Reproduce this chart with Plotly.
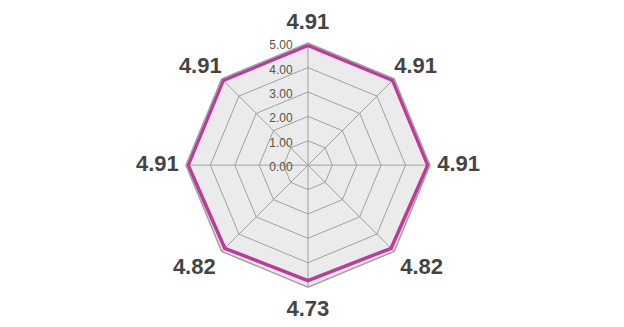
import plotly.graph_objects as go

categories = ["A", "B", "C", "D", "E", "F", "G", "H"]
values = [4.91, 4.91, 4.91, 4.82, 4.73, 4.82, 4.91, 4.91]
radial_ticks = [0, 1, 2, 3, 4, 5]
radial_ticktext = ["0.00", "1.00", "2.00", "3.00", "4.00", "5.00"]
angle_labels = [f"{v:.2f}" for v in values]
r_max = 5
label_positions = ["top center", "top right", "middle right", "bottom right",
                   "bottom center", "bottom left", "middle left", "top left"]
label_pads = [12, 0, 10, 8, 19, 8, 10, 0]

fig = go.Figure()
fig.add_trace(go.Scatterpolar(
    r=values + values[:1],
    theta=categories + categories[:1],
    mode="lines",
    line=dict(color="#c0389a", width=3.5),
    hoverinfo="skip",
))
fig.add_trace(go.Scatterpolar(
    r=[r_max] * len(categories),
    theta=categories,
    mode="markers+text",
    marker=dict(size=label_pads, opacity=0),
    text=angle_labels,
    textposition=label_positions,
    textfont=dict(family="Liberation Sans, Arial", size=22, color="#444444", weight="bold"),
    cliponaxis=False,
    hoverinfo="skip",
))

fig.update_layout(
    width=624, height=327,
    margin=dict(l=0, r=0, t=0, b=0),
    paper_bgcolor="white",
    showlegend=False,
    polar=dict(
        domain=dict(x=[0.298, 0.689], y=[0.122, 0.868]),
        bgcolor="#ebebeb",
        gridshape="linear",
        radialaxis=dict(
            range=[0, r_max],
            tickvals=radial_ticks,
            ticktext=radial_ticktext,
            angle=90,
            side="counterclockwise",
            showline=False,
            gridcolor="#a0a0a0",
            gridwidth=1,
            tickfont=dict(family="Liberation Sans, Arial", size=12, color="#5a5540"),
            ticks="outside",
            ticklen=4,
            tickcolor="rgba(0,0,0,0)",
        ),
        angularaxis=dict(
            direction="clockwise",
            rotation=90,
            tickmode="array",
            tickvals=categories,
            showticklabels=False,
            gridcolor="#a0a0a0",
            linecolor="#a0a0a0",
            linewidth=1.5,
            ticks="",
        ),
    ),
)

fig.write_html("out.html")
